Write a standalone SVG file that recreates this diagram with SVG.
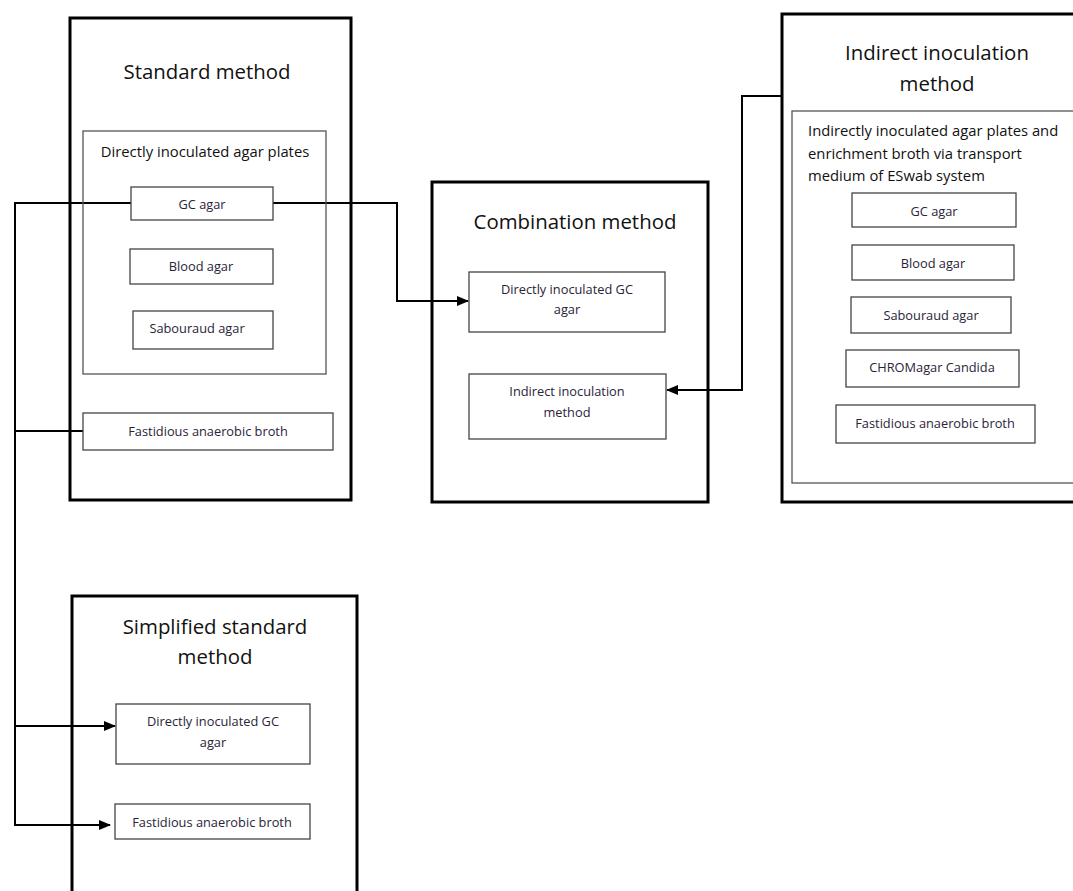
<svg xmlns="http://www.w3.org/2000/svg" width="1073" height="891" viewBox="0 0 1073 891">
<style>
.outer{fill:none;stroke:#000;stroke-width:3}
.inner{fill:#fff;stroke:#444;stroke-width:1.3}
.group{fill:none;stroke:#555;stroke-width:1.3}
.title{font-family:"Open Sans","Liberation Sans",sans-serif;font-size:20.4px;fill:#111;text-anchor:middle}
.sub{font-family:"Open Sans","Liberation Sans",sans-serif;font-size:14.8px;fill:#111}
.lbl{font-family:"Open Sans","Liberation Sans",sans-serif;font-size:12.8px;fill:#2a2438;text-anchor:middle}
.conn{fill:none;stroke:#000;stroke-width:2}
</style>
<defs>
<marker id="arr" markerWidth="12" markerHeight="12" refX="11" refY="6" orient="auto" markerUnits="userSpaceOnUse"><path d="M0,1 L12,6 L0,11 z" fill="#000"/></marker>
</defs>
<rect width="1073" height="891" fill="#fff"/>
<g id="connectors">
<polyline class="conn" points="131,203 15,203 15,825 110,825" marker-end="url(#arr)"/>
<line class="conn" x1="15" y1="431" x2="83" y2="431"/>
<line class="conn" x1="15" y1="726" x2="115" y2="726" marker-end="url(#arr)"/>
<polyline class="conn" points="273,203 397,203 397,301 468,301" marker-end="url(#arr)"/>
<polyline class="conn" points="782,96 742,96 742,390 667,390" marker-end="url(#arr)"/>
</g>
<g id="standard">
<rect class="outer" x="70" y="18" width="281" height="482"/>
<text class="title" x="207" y="79">Standard method</text>
<g id="standard-direct">
<rect class="group" x="83" y="131" width="243" height="243"/>
<text class="sub" x="205" y="157" text-anchor="middle">Directly inoculated agar plates</text>
</g>
<g id="std-gc"><rect class="inner" x="131" y="187" width="142" height="33"/><text class="lbl" x="202" y="209">GC agar</text></g>
<g id="std-blood"><rect class="inner" x="130" y="249" width="143" height="35"/><text class="lbl" x="201" y="271">Blood agar</text></g>
<g id="std-sab"><rect class="inner" x="133" y="311" width="140" height="38"/><text class="lbl" x="197" y="333">Sabouraud agar</text></g>
<g id="std-fab"><rect class="inner" x="83" y="413" width="250" height="37"/><text class="lbl" x="208" y="436">Fastidious anaerobic broth</text></g>
</g>
<g id="combination">
<rect class="outer" x="432" y="182" width="276" height="320"/>
<text class="title" x="575" y="229">Combination method</text>
<g id="comb-gc"><rect class="inner" x="469" y="272" width="196" height="60"/><text class="lbl" x="567" y="294">Directly inoculated GC</text><text class="lbl" x="567" y="314">agar</text></g>
<g id="comb-ind"><rect class="inner" x="469" y="374" width="197" height="65"/><text class="lbl" x="567" y="396">Indirect inoculation</text><text class="lbl" x="567" y="417">method</text></g>
</g>
<g id="indirect">
<rect class="outer" x="782" y="14" width="300" height="488"/>
<text class="title" x="937" y="60">Indirect inoculation</text>
<text class="title" x="937" y="91">method</text>
<g id="indirect-group">
<rect class="group" x="792" y="111" width="290" height="372"/>
<text class="sub" x="808" y="136">Indirectly inoculated agar plates and</text>
<text class="sub" x="808" y="159">enrichment broth via transport</text>
<text class="sub" x="808" y="181">medium of ESwab system</text>
</g>
<g id="ind-gc"><rect class="inner" x="852" y="193" width="164" height="34"/><text class="lbl" x="934" y="216">GC agar</text></g>
<g id="ind-blood"><rect class="inner" x="852" y="245" width="162" height="35"/><text class="lbl" x="933" y="268">Blood agar</text></g>
<g id="ind-sab"><rect class="inner" x="851" y="297" width="160" height="36"/><text class="lbl" x="931" y="320">Sabouraud agar</text></g>
<g id="ind-chrom"><rect class="inner" x="846" y="350" width="173" height="37"/><text class="lbl" x="932" y="372">CHROMagar Candida</text></g>
<g id="ind-fab"><rect class="inner" x="836" y="405" width="199" height="38"/><text class="lbl" x="935" y="428">Fastidious anaerobic broth</text></g>
</g>
<g id="simplified">
<rect class="outer" x="72" y="596" width="285" height="310"/>
<text class="title" x="215" y="634">Simplified standard</text>
<text class="title" x="215" y="664">method</text>
<g id="simp-gc"><rect class="inner" x="116" y="704" width="194" height="60"/><text class="lbl" x="213" y="726">Directly inoculated GC</text><text class="lbl" x="213" y="747">agar</text></g>
<g id="simp-fab"><rect class="inner" x="115" y="804" width="195" height="35"/><text class="lbl" x="212" y="827">Fastidious anaerobic broth</text></g>
</g>
</svg>
